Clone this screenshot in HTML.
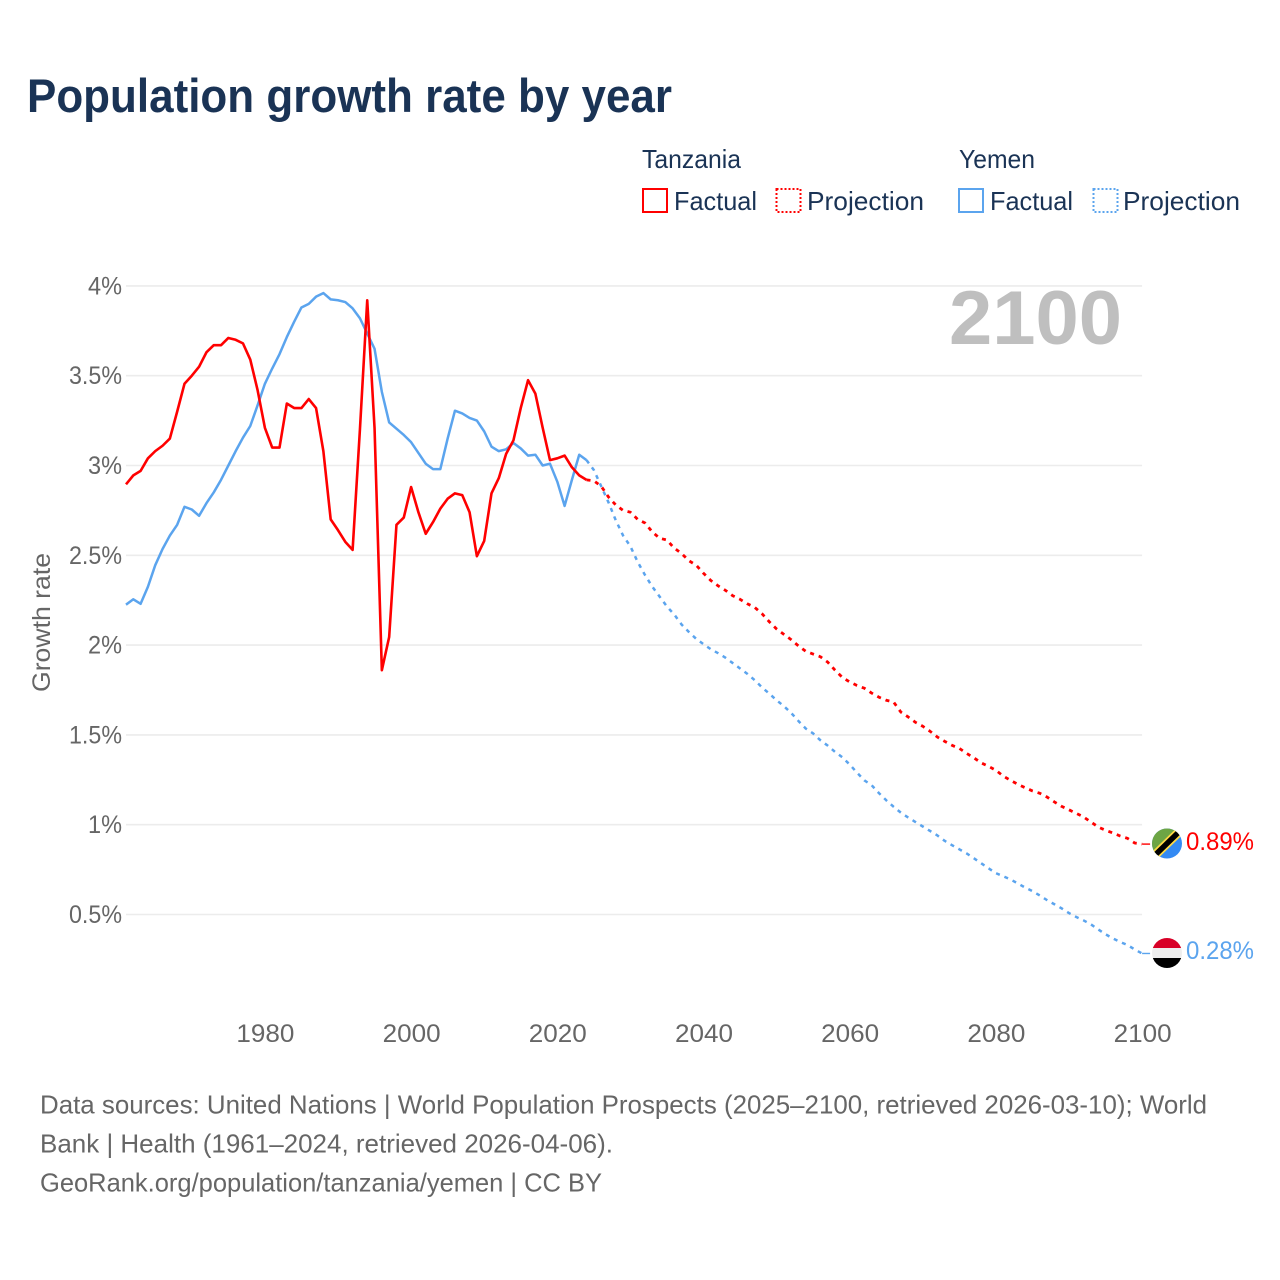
<!DOCTYPE html>
<html lang="en">
<head>
<meta charset="utf-8">
<title>Population growth rate by year</title>
<style>
html,body{margin:0;padding:0;background:#fff;}
svg{display:block;font-family:"Liberation Sans",sans-serif;}
.tick{fill:#666;font-size:25px;}
.src{fill:#666;font-size:26px;}
.leg{fill:#1a3355;font-size:26px;}
</style>
</head>
<body>
<svg id="chart" width="1280" height="1280" viewBox="0 0 1280 1280" xmlns="http://www.w3.org/2000/svg">
  <defs>
    <clipPath id="clip-tz"><circle cx="1167" cy="843.5" r="15"/></clipPath>
    <clipPath id="clip-ye"><circle cx="1167" cy="953" r="15"/></clipPath>
  </defs>
  <rect width="1280" height="1280" fill="#fff"/>
  <text x="27" y="112" font-size="47" font-weight="700" fill="#1a3355" textLength="645" lengthAdjust="spacingAndGlyphs">Population growth rate by year</text>

  <g>
    <text class="leg" x="642" y="168" textLength="99" lengthAdjust="spacingAndGlyphs">Tanzania</text>
    <text class="leg" x="959" y="168" textLength="76" lengthAdjust="spacingAndGlyphs">Yemen</text>
    <g>
      <rect x="643" y="189" width="24" height="23" fill="none" stroke="#ff0000" stroke-width="2"/>
      <text class="leg" x="674" y="210" textLength="83" lengthAdjust="spacingAndGlyphs">Factual</text>
    </g>
    <g>
      <rect x="776.500" y="189" width="24" height="23" fill="none" stroke="#ff0000" stroke-width="2" stroke-dasharray="2 2"/>
      <text class="leg" x="807" y="210" textLength="117" lengthAdjust="spacingAndGlyphs">Projection</text>
    </g>
    <g>
      <rect x="959" y="189" width="24" height="23" fill="none" stroke="#5ba4ee" stroke-width="2"/>
      <text class="leg" x="990" y="210" textLength="83" lengthAdjust="spacingAndGlyphs">Factual</text>
    </g>
    <g>
      <rect x="1093.500" y="189" width="24" height="23" fill="none" stroke="#5ba4ee" stroke-width="2" stroke-dasharray="2 2"/>
      <text class="leg" x="1123" y="210" textLength="117" lengthAdjust="spacingAndGlyphs">Projection</text>
    </g>
  </g>

  <text x="949" y="344" font-size="76" font-weight="700" fill="#bfbfbf" textLength="173" lengthAdjust="spacingAndGlyphs">2100</text>
  <text transform="translate(50,692) rotate(-90)" font-size="25" fill="#666" textLength="139" lengthAdjust="spacingAndGlyphs">Growth rate</text>

  <g id="grid"></g>
  <g id="yticks"></g>
  <g id="xticks"></g>
  <g id="series"></g>

  <g clip-path="url(#clip-tz)">
    <rect x="1152" y="828" width="30" height="31" fill="#338af3"/>
    <polygon points="1152,828 1182,828 1152,858.500" fill="#6da544"/>
    <line x1="1150" y1="860" x2="1184" y2="827" stroke="#ffda44" stroke-width="9"/>
    <line x1="1150" y1="860" x2="1184" y2="827" stroke="#000" stroke-width="5.500"/>
  </g>
  <g clip-path="url(#clip-ye)">
    <rect x="1152" y="938" width="30" height="10" fill="#d80027"/>
    <rect x="1152" y="948" width="30" height="10" fill="#eeeeee"/>
    <rect x="1152" y="958" width="30" height="10" fill="#000"/>
  </g>
  <text id="end-tz" x="1186" y="850" font-size="25" fill="#ff0000" textLength="68" lengthAdjust="spacingAndGlyphs"></text>
  <text id="end-ye" x="1186" y="959" font-size="25" fill="#5ba4ee" textLength="68" lengthAdjust="spacingAndGlyphs"></text>

  <g>
    <text class="src" x="40" y="1113.500" textLength="1167" lengthAdjust="spacingAndGlyphs">Data sources: United Nations | World Population Prospects (2025–2100, retrieved 2026-03-10); World</text>
    <text class="src" x="40" y="1152.500" textLength="573" lengthAdjust="spacingAndGlyphs">Bank | Health (1961–2024, retrieved 2026-04-06).</text>
    <text class="src" x="40" y="1191.500" textLength="562" lengthAdjust="spacingAndGlyphs">GeoRank.org/population/tanzania/yemen | CC BY</text>
  </g>
</svg>
<script>
const factualStartYear = 1961;
const projectionStartYear = 2025;
const xTickYears = [1980, 2000, 2020, 2040, 2060, 2080, 2100];
const yTickValues = [0.5, 1, 1.5, 2, 2.5, 3, 3.5, 4];
const tanzaniaFactual = [
  2.895,2.945,2.97,3.04,3.08,3.11,3.15,3.30,3.455,3.50,
  3.55,3.63,3.67,3.67,3.71,3.70,3.68,3.59,3.42,3.21,
  3.10,3.10,3.345,3.32,3.32,3.37,3.32,3.08,2.70,2.64,
  2.575,2.53,3.20,3.92,3.21,1.86,2.045,2.67,2.71,2.88,
  2.74,2.62,2.685,2.76,2.815,2.845,2.835,2.74,2.495,2.58,
  2.845,2.93,3.065,3.14,3.32,3.475,3.40,3.21,3.03,3.04,
  3.055,2.99,2.945,2.92
];
const yemenFactual = [
  2.225,2.255,2.23,2.325,2.445,2.535,2.61,2.67,2.77,2.755,
  2.72,2.79,2.85,2.92,3.00,3.08,3.155,3.22,3.335,3.455,
  3.54,3.62,3.715,3.80,3.88,3.90,3.94,3.96,3.925,3.92,
  3.91,3.875,3.82,3.735,3.65,3.41,3.24,3.205,3.17,3.13,
  3.07,3.01,2.98,2.98,3.15,3.305,3.29,3.265,3.25,3.19,
  3.105,3.08,3.09,3.125,3.095,3.055,3.06,3.00,3.01,2.91,
  2.775,2.92,3.06,3.03
];
const tanzaniaProjection = [
  2.915,2.885,2.825,2.78,2.75,2.74,2.70,2.68,2.63,2.595,
  2.585,2.54,2.51,2.47,2.445,2.40,2.36,2.33,2.305,2.275,
  2.255,2.23,2.21,2.175,2.13,2.09,2.06,2.03,1.995,1.965,
  1.95,1.935,1.905,1.86,1.82,1.795,1.775,1.76,1.733,1.71,
  1.693,1.683,1.627,1.60,1.57,1.548,1.52,1.488,1.464,1.442,
  1.425,1.397,1.372,1.344,1.325,1.303,1.271,1.247,1.225,1.206,
  1.188,1.175,1.154,1.127,1.102,1.083,1.063,1.043,1.015,0.987,
  0.969,0.954,0.937,0.924,0.898,0.892
];
const yemenProjection = [
  2.975,2.885,2.795,2.695,2.61,2.55,2.463,2.39,2.325,2.27,
  2.215,2.17,2.115,2.073,2.035,2.005,1.977,1.955,1.93,1.90,
  1.87,1.84,1.805,1.765,1.73,1.693,1.66,1.622,1.577,1.535,
  1.508,1.47,1.44,1.405,1.375,1.335,1.29,1.247,1.22,1.176,
  1.136,1.10,1.067,1.04,1.015,0.99,0.965,0.94,0.91,0.886,
  0.863,0.84,0.813,0.785,0.757,0.73,0.713,0.695,0.673,0.65,
  0.63,0.606,0.58,0.557,0.534,0.508,0.486,0.467,0.445,0.417,
  0.39,0.367,0.347,0.33,0.305,0.283
];
const tanzaniaEndLabel = "0.89%";
const yemenEndLabel = "0.28%";

const NS = "http://www.w3.org/2000/svg";
function xScale(year) { return 126 + 7.31 * (year - 1961); }
function yScale(value) { return 1004.3 - 179.6 * value; }
function pointsFrom(values, startYear) {
  return values.map(function (v, i) {
    return xScale(startYear + i).toFixed(2) + "," + yScale(v).toFixed(2);
  });
}
const gridLayer = document.getElementById("grid");
const yLayer = document.getElementById("yticks");
const xLayer = document.getElementById("xticks");
const seriesLayer = document.getElementById("series");

yTickValues.forEach(function (v) {
  const line = document.createElementNS(NS, "line");
  
  
  line.setAttribute("x1", xScale(1961));
  line.setAttribute("x2", xScale(2100));
  line.setAttribute("y1", yScale(v));
  line.setAttribute("y2", yScale(v));
  line.setAttribute("stroke", "#ececec");
  line.setAttribute("stroke-width", "1.6");
  gridLayer.appendChild(line);

  const label = document.createElementNS(NS, "text");
  
  
  const s = v + "%";
  const w = s.length > 2 ? 53 : 34;
  label.setAttribute("class", "tick");
  label.setAttribute("x", 122 - w);
  label.setAttribute("y", yScale(v) + 8.5);
  label.setAttribute("textLength", w);
  label.setAttribute("lengthAdjust", "spacingAndGlyphs");
  label.textContent = s;
  yLayer.appendChild(label);
});

xTickYears.forEach(function (yr) {
  const label = document.createElementNS(NS, "text");
  
  
  label.setAttribute("class", "tick");
  label.setAttribute("x", xScale(yr) - 28.5);
  label.setAttribute("y", 1042);
  label.setAttribute("textLength", 58);
  label.setAttribute("lengthAdjust", "spacingAndGlyphs");
  label.textContent = yr;
  xLayer.appendChild(label);
});

function drawPolyline(points, color, width, dash, name) {
  const p = document.createElementNS(NS, "polyline");
  
  
  p.setAttribute("points", points.join(" "));
  p.setAttribute("fill", "none");
  p.setAttribute("stroke", color);
  p.setAttribute("stroke-width", width);
  p.setAttribute("stroke-linejoin", "round");
  if (dash) p.setAttribute("stroke-dasharray", dash);
  seriesLayer.appendChild(p);
}
function drawSeries(factual, projection, color, factualWidth, dashWidth, prefix) {
  const fp = pointsFrom(factual, factualStartYear);
  const pp = pointsFrom(projection, projectionStartYear);
  drawPolyline([fp[fp.length - 1]].concat(pp), color, dashWidth, "4 5", prefix + "-projection-line");
  const last = projection[projection.length - 1];
  drawPolyline([xScale(2100) + "," + yScale(last), (xScale(2100) + 8) + "," + yScale(last)], color, 1.4, null, prefix + "-end-stub");
  drawPolyline(fp, color, factualWidth, null, prefix + "-factual-line");
}
drawSeries(yemenFactual, yemenProjection, "#5ba4ee", 2.5, 2.5, "yemen");
drawSeries(tanzaniaFactual, tanzaniaProjection, "#ff0000", 2.6, 2.8, "tanzania");

document.getElementById("end-tz").textContent = tanzaniaEndLabel;
document.getElementById("end-ye").textContent = yemenEndLabel;
</script>
</body>
</html>
